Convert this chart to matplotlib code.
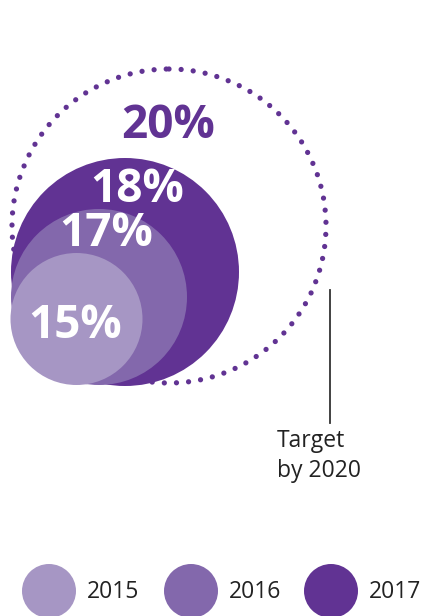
import matplotlib.pyplot as plt
from matplotlib.patches import Circle

# data
years = ['2015', '2016', '2017']
shares = [15, 17, 18]
target_share = 20
target_label = 'Target\nby 2020'

# layout (pixel space, y downwards)
colors = ['#a696c4', '#8368ac', '#613393']
radii = [66, 88, 114]
centers = [(76.5, 319), (99, 297), (125, 272)]
label_pos = [(75, 325), (106, 233), (137, 189)]
target_center = (169, 226)
target_radius = 157

plt.rcParams['font.family'] = ['Open Sans', 'DejaVu Sans']

fig = plt.figure(figsize=(4.22, 6.16), dpi=100)
ax = fig.add_axes([0, 0, 1, 1])
ax.set_xlim(0, 422)
ax.set_ylim(616, 0)
ax.set_aspect('equal')
ax.axis('off')

# dotted target ring
ring = Circle(target_center, target_radius, fill=False, edgecolor='#613393',
              linewidth=3.8, linestyle=(0, (0.001, 2.3)))
ring.set_capstyle('round')
ax.add_patch(ring)
ax.text(168, 125, f'{target_share}%', color='#613393', fontsize=33,
        fontweight='bold', ha='center', va='center')

# nested year circles, largest first
for i in reversed(range(len(years))):
    ax.add_patch(Circle(centers[i], radii[i], color=colors[i], linewidth=0))
for i in range(len(years)):
    ax.text(label_pos[i][0], label_pos[i][1], f'{shares[i]}%', color='white',
            fontsize=33, fontweight='bold', ha='center', va='center')

# target annotation
ax.plot([330, 330], [290, 423], color='#333333', linewidth=1.3)
for k, line in enumerate(target_label.split('\n')):
    ax.text(277, 447 + 30 * k, line, color='#222222', fontsize=16.5,
            ha='left', va='baseline')

# legend
leg_x = [49, 191, 331]
for i, yr in enumerate(years):
    ax.add_patch(Circle((leg_x[i], 591), 27, color=colors[i], linewidth=0))
    ax.text(leg_x[i] + 38, 592, yr, color='#222222', fontsize=16.5,
            ha='left', va='center')

fig.savefig('out.png', dpi=100)
